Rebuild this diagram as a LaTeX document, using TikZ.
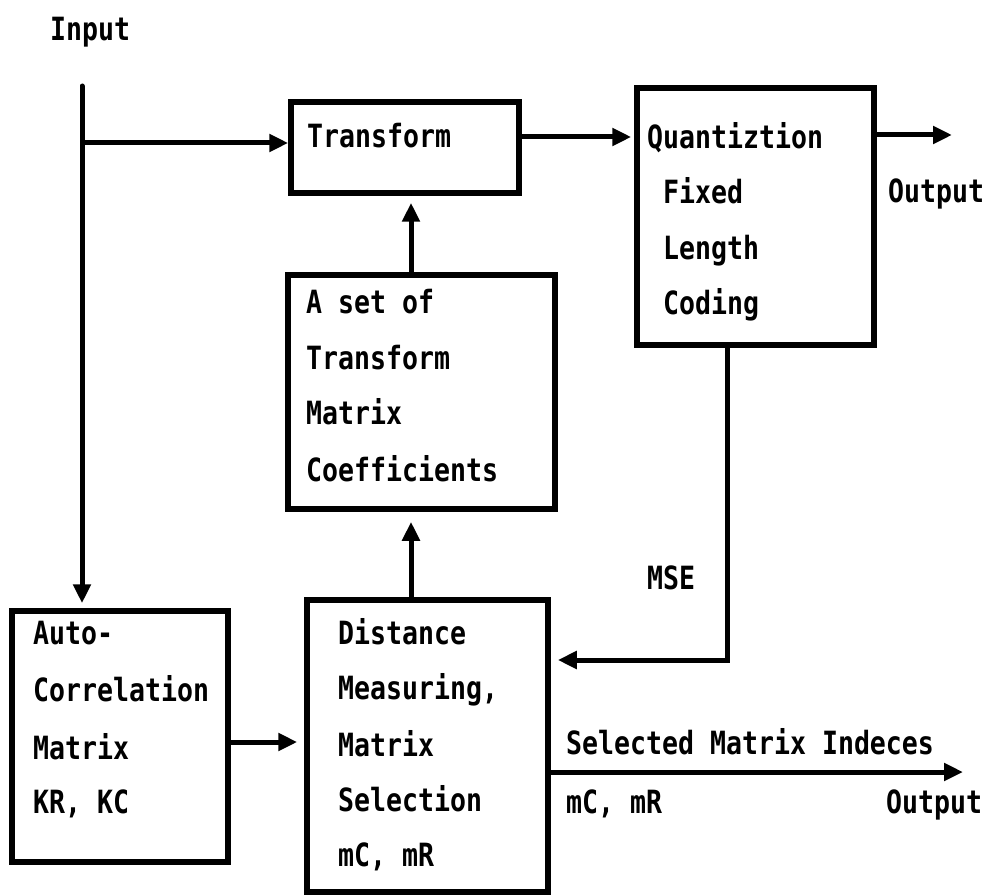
\documentclass[tikz,border=0pt]{standalone}
\usepackage{fontspec}
\usetikzlibrary{arrows.meta}
\newfontfamily\diagfont{DejaVu Sans Mono}[FakeStretch=0.83]
\begin{document}
\begin{tikzpicture}[x=1pt,y=-1pt,
  box/.style={draw, line width=5.5pt, inner sep=0pt, rectangle},
  lbl/.style={anchor=base west, inner sep=0pt,
    font=\diagfont\bfseries\fontsize{32}{32}\selectfont},
  flow/.style={line width=5pt, -{Triangle[length=19pt,width=17pt]}}]
\useasboundingbox (0,0) rectangle (991,896);

% blocks
\node[box, minimum width=228pt, minimum height=91pt]  (tr)   at (405,147.5) {};
\node[box, minimum width=237pt, minimum height=257pt] (q)    at (755.5,216.5) {};
\node[box, minimum width=267pt, minimum height=234pt] (set)  at (421.5,392) {};
\node[box, minimum width=241pt, minimum height=292pt] (dist) at (427.5,746) {};
\node[box, minimum width=216pt, minimum height=251pt] (auto) at (120,736.5) {};

% block texts
\node[lbl] (trT) at (307,148) {Transform};

\node[lbl] (q1) at (647,149) {Quantiztion};
\node[lbl] (q2) at (663,204) {Fixed};
\node[lbl] (q3) at (663,259) {Length};
\node[lbl] (q4) at (663,314) {Coding};

\node[lbl] (s1) at (306,313) {A set of};
\node[lbl] (s2) at (306,369) {Transform};
\node[lbl] (s3) at (306,424) {Matrix};
\node[lbl] (s4) at (306,481) {Coefficients};

\node[lbl] (a1) at (33,644) {Auto-};
\node[lbl] (a2) at (33,701) {Correlation};
\node[lbl] (a3) at (33,759) {Matrix};
\node[lbl] (a4) at (33,813) {KR, KC};

\node[lbl] (d1) at (338,644) {Distance};
\node[lbl] (d2) at (338,699) {Measuring,};
\node[lbl] (d3) at (338,756) {Matrix};
\node[lbl] (d4) at (338,811) {Selection};
\node[lbl] (d5) at (338,866) {mC, mR};

% free labels
\node[lbl] (inL)   at (50,41)   {Input};
\node[lbl] (outT)  at (888,203) {Output};
\node[lbl] (mse)   at (647,589) {MSE};
\node[lbl] (selL)  at (566,754) {Selected Matrix Indeces};
\node[lbl] (idxL)  at (566,813) {mC, mR};
\node[lbl] (outB)  at (886,813) {Output};

% helper points
\coordinate (in)   at (82,86);
\coordinate (br)   at (82,143);
\coordinate (mid)  at (411,0);
\coordinate (tq)   at (519,137);
\coordinate (qo)   at (874,135);
\coordinate (out1) at (952,135);
\coordinate (fb)   at (727,660);
\coordinate (ad)   at (228,742);
\coordinate (so)   at (963,772);

% connectors
\draw[flow, line cap=round, shorten >=5pt] (in) -- (in |- auto.north);
\draw[flow] (br) -- (br -| tr.west);
\draw[flow, shorten >=3pt] (tq) -- (tq -| q.west);
\draw[flow] (qo) -- (out1);
\draw[flow, shorten >=7pt] (set.north -| mid) -- (tr.south -| mid);
\draw[flow, shorten >=10pt] (dist.north -| mid) -- (set.south -| mid);
\draw[flow, shorten >=7pt] (q.south -| fb) -- (fb) -- (fb -| dist.east);
\draw[flow, shorten >=7pt] (ad) -- (ad -| dist.west);
\draw[flow] (dist.east |- so) -- (so);
\end{tikzpicture}
\end{document}
